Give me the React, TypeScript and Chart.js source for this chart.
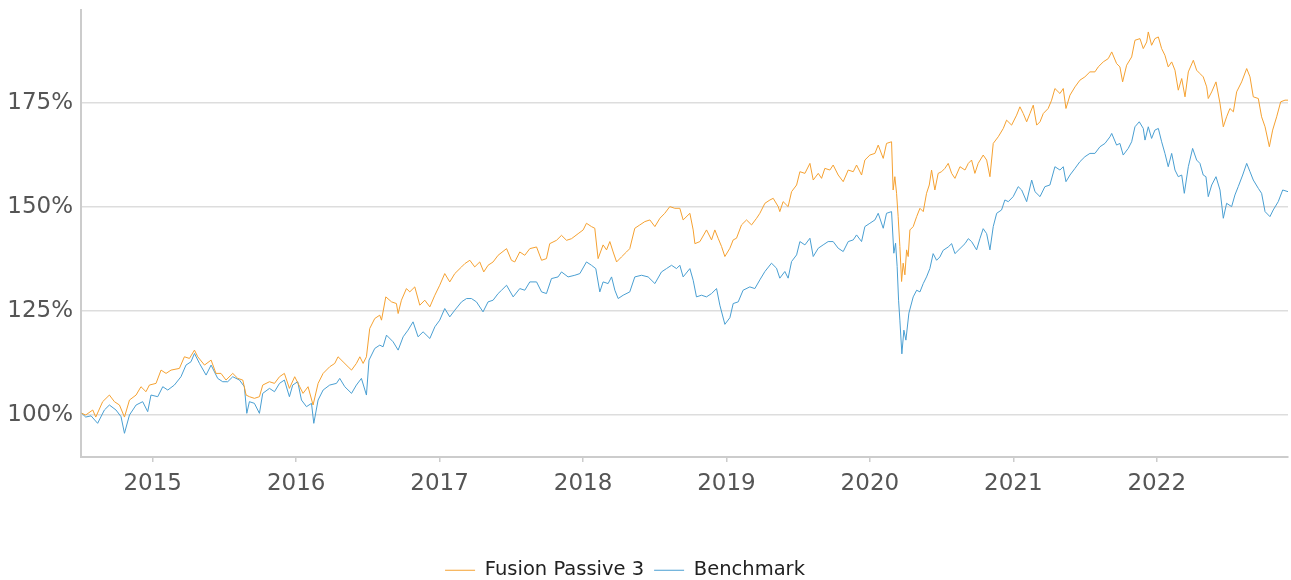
import { useEffect, useRef } from 'react';
import { Chart, registerables } from 'chart.js';

Chart.register(...registerables);

const seriesNames = ['Fusion Passive 3', 'Benchmark'];
const seriesColors = ['#f5a131', '#4a9fd2'];
const yearTicks = [2015, 2016, 2017, 2018, 2019, 2020, 2021, 2022];
const percentTicks = [100, 125, 150, 175];

const fusionDates = [
  2014.505, 2014.533, 2014.582, 2014.603, 2014.651, 2014.698, 2014.733, 2014.768, 2014.803, 2014.838,
  2014.884, 2014.918, 2014.953, 2014.977, 2015.023, 2015.058, 2015.093, 2015.128, 2015.186, 2015.221,
  2015.256, 2015.291, 2015.314, 2015.361, 2015.407, 2015.441, 2015.476, 2015.511, 2015.558, 2015.593,
  2015.628, 2015.651, 2015.674, 2015.709, 2015.744, 2015.767, 2015.814, 2015.849, 2015.884, 2015.918,
  2015.953, 2015.990, 2016.025, 2016.048, 2016.083, 2016.118, 2016.153, 2016.188, 2016.234, 2016.269,
  2016.292, 2016.327, 2016.362, 2016.386, 2016.420, 2016.444, 2016.467, 2016.490, 2016.513, 2016.548,
  2016.583, 2016.595, 2016.625, 2016.665, 2016.699, 2016.711, 2016.734, 2016.769, 2016.792, 2016.827,
  2016.862, 2016.897, 2016.932, 2016.967, 2017.001, 2017.036, 2017.071, 2017.106, 2017.153, 2017.176,
  2017.211, 2017.245, 2017.280, 2017.308, 2017.338, 2017.373, 2017.408, 2017.467, 2017.501, 2017.524,
  2017.559, 2017.594, 2017.629, 2017.676, 2017.711, 2017.745, 2017.768, 2017.815, 2017.850, 2017.885,
  2017.920, 2017.966, 2018.001, 2018.024, 2018.059, 2018.082, 2018.105, 2018.140, 2018.164, 2018.187,
  2018.210, 2018.234, 2018.268, 2018.303, 2018.326, 2018.361, 2018.396, 2018.431, 2018.466, 2018.501,
  2018.536, 2018.570, 2018.605, 2018.640, 2018.675, 2018.698, 2018.745, 2018.768, 2018.780, 2018.815,
  2018.861, 2018.896, 2018.919, 2018.942, 2018.966, 2018.989, 2019.024, 2019.047, 2019.070, 2019.105,
  2019.140, 2019.175, 2019.210, 2019.233, 2019.268, 2019.303, 2019.326, 2019.361, 2019.372, 2019.395,
  2019.430, 2019.454, 2019.489, 2019.512, 2019.547, 2019.582, 2019.605, 2019.640, 2019.663, 2019.686,
  2019.721, 2019.744, 2019.779, 2019.814, 2019.849, 2019.884, 2019.907, 2019.942, 2019.965, 2020.000,
  2020.035, 2020.058, 2020.093, 2020.116, 2020.151, 2020.162, 2020.174, 2020.186, 2020.197, 2020.209,
  2020.221, 2020.232, 2020.244, 2020.256, 2020.267, 2020.279, 2020.302, 2020.326, 2020.349, 2020.372,
  2020.395, 2020.414, 2020.430, 2020.453, 2020.476, 2020.500, 2020.523, 2020.546, 2020.570, 2020.593,
  2020.628, 2020.663, 2020.686, 2020.709, 2020.732, 2020.755, 2020.790, 2020.814, 2020.837, 2020.860,
  2020.895, 2020.930, 2020.953, 2020.988, 2021.023, 2021.046, 2021.069, 2021.093, 2021.116, 2021.139,
  2021.163, 2021.186, 2021.209, 2021.243, 2021.267, 2021.290, 2021.325, 2021.348, 2021.367, 2021.395,
  2021.430, 2021.464, 2021.499, 2021.534, 2021.569, 2021.592, 2021.627, 2021.662, 2021.686, 2021.720,
  2021.743, 2021.762, 2021.790, 2021.825, 2021.848, 2021.883, 2021.906, 2021.930, 2021.941, 2021.964,
  2021.987, 2022.011, 2022.034, 2022.057, 2022.080, 2022.104, 2022.127, 2022.150, 2022.174, 2022.197,
  2022.220, 2022.255, 2022.278, 2022.301, 2022.324, 2022.348, 2022.359, 2022.383, 2022.413, 2022.441,
  2022.464, 2022.487, 2022.510, 2022.534, 2022.557, 2022.592, 2022.627, 2022.650, 2022.673, 2022.708,
  2022.731, 2022.755, 2022.785, 2022.808, 2022.836, 2022.864, 2022.894, 2022.915,
];

const fusionValues = [
  100.4, 100.0, 101.2, 99.5, 103.2, 104.8, 103.2, 102.4, 99.5, 103.6,
  104.8, 106.8, 105.6, 107.2, 107.6, 110.8, 110.0, 110.8, 111.2, 114.0,
  113.6, 115.6, 114.0, 112.0, 113.2, 110.0, 110.0, 108.4, 110.0, 108.8,
  108.4, 104.8, 104.4, 104.0, 104.4, 107.2, 108.0, 107.6, 109.2, 110.0,
  106.4, 109.2, 106.8, 105.2, 106.8, 102.4, 107.6, 110.0, 111.6, 112.4,
  114.0, 112.8, 111.6, 110.8, 112.4, 114.0, 112.4, 114.0, 120.8, 123.2,
  124.0, 122.8, 128.4, 127.2, 126.8, 124.4, 127.6, 130.4, 129.6, 130.8,
  126.4, 127.6, 126.0, 128.8, 131.2, 134.0, 132.0, 134.0, 135.6, 136.4,
  137.2, 135.6, 136.8, 134.4, 136.0, 136.8, 138.4, 140.0, 137.2, 136.8,
  139.2, 138.4, 140.0, 140.4, 137.2, 137.6, 141.2, 142.0, 143.2, 142.0,
  142.4, 143.6, 144.5, 146.1, 145.3, 144.9, 137.6, 140.9, 139.7, 141.7,
  139.2, 136.8, 138.0, 139.2, 140.0, 144.9, 145.7, 146.5, 146.9, 145.3,
  147.3, 148.5, 150.1, 149.7, 149.7, 146.9, 148.5, 144.5, 141.2, 141.7,
  144.5, 142.1, 144.5, 142.5, 140.5, 138.1, 140.1, 142.1, 142.5, 145.7,
  146.9, 145.7, 147.3, 148.5, 150.9, 151.7, 152.1, 150.1, 148.9, 151.3,
  150.1, 153.7, 155.3, 158.5, 158.1, 160.5, 156.5, 158.1, 156.9, 159.3,
  158.9, 160.1, 157.7, 156.1, 158.9, 158.5, 160.1, 157.7, 161.3, 162.5,
  162.9, 164.9, 161.7, 165.3, 165.7, 154.1, 157.3, 153.3, 147.7, 140.5,
  132.1, 136.5, 133.7, 139.7, 138.1, 144.5, 145.3, 147.7, 149.7, 148.9,
  153.3, 155.3, 158.9, 154.1, 158.1, 158.5, 159.3, 160.5, 158.1, 156.9,
  159.7, 158.9, 160.5, 161.3, 158.1, 160.5, 162.5, 161.3, 157.3, 165.3,
  166.9, 168.9, 170.9, 169.7, 172.1, 174.1, 172.5, 170.5, 172.5, 174.5,
  169.7, 170.5, 172.5, 173.7, 175.7, 178.5, 177.3, 178.5, 173.7, 176.9,
  178.9, 180.5, 181.3, 182.5, 182.5, 183.7, 184.9, 185.7, 187.3, 184.5,
  183.7, 180.1, 184.1, 186.1, 190.1, 190.5, 188.1, 189.7, 192.1, 188.9,
  190.5, 190.9, 188.1, 186.5, 183.7, 184.9, 182.9, 178.1, 180.9, 176.5,
  182.5, 185.3, 182.9, 182.1, 181.3, 178.9, 176.1, 177.7, 180.1, 174.9,
  169.3, 171.7, 173.7, 172.9, 177.7, 180.1, 183.3, 181.3, 176.5, 176.1,
  171.7, 169.3, 164.5, 168.5, 171.7, 175.3, 175.7, 175.7,
];

const benchmarkDates = [
  2014.505, 2014.533, 2014.570, 2014.616, 2014.663, 2014.698, 2014.744, 2014.779, 2014.803, 2014.838,
  2014.884, 2014.930, 2014.965, 2014.988, 2015.035, 2015.070, 2015.105, 2015.151, 2015.197, 2015.232,
  2015.267, 2015.291, 2015.326, 2015.372, 2015.407, 2015.453, 2015.488, 2015.523, 2015.558, 2015.605,
  2015.639, 2015.656, 2015.674, 2015.709, 2015.744, 2015.767, 2015.814, 2015.849, 2015.884, 2015.918,
  2015.953, 2015.976, 2016.011, 2016.037, 2016.072, 2016.107, 2016.123, 2016.153, 2016.188, 2016.234,
  2016.281, 2016.304, 2016.339, 2016.386, 2016.420, 2016.455, 2016.490, 2016.508, 2016.548, 2016.583,
  2016.606, 2016.630, 2016.676, 2016.711, 2016.746, 2016.780, 2016.815, 2016.850, 2016.885, 2016.932,
  2016.967, 2017.001, 2017.036, 2017.071, 2017.106, 2017.153, 2017.188, 2017.222, 2017.257, 2017.303,
  2017.338, 2017.373, 2017.408, 2017.432, 2017.467, 2017.513, 2017.559, 2017.594, 2017.629, 2017.676,
  2017.711, 2017.745, 2017.780, 2017.826, 2017.850, 2017.896, 2017.943, 2017.978, 2018.024, 2018.059,
  2018.089, 2018.117, 2018.140, 2018.175, 2018.199, 2018.222, 2018.245, 2018.280, 2018.326, 2018.361,
  2018.408, 2018.454, 2018.501, 2018.547, 2018.582, 2018.617, 2018.652, 2018.675, 2018.698, 2018.745,
  2018.768, 2018.791, 2018.826, 2018.861, 2018.896, 2018.931, 2018.954, 2018.989, 2019.024, 2019.047,
  2019.082, 2019.116, 2019.163, 2019.198, 2019.233, 2019.268, 2019.314, 2019.349, 2019.372, 2019.407,
  2019.430, 2019.454, 2019.489, 2019.512, 2019.547, 2019.582, 2019.605, 2019.640, 2019.674, 2019.709,
  2019.744, 2019.779, 2019.814, 2019.849, 2019.884, 2019.907, 2019.942, 2019.965, 2020.000, 2020.035,
  2020.058, 2020.093, 2020.116, 2020.151, 2020.167, 2020.179, 2020.190, 2020.200, 2020.209, 2020.223,
  2020.237, 2020.251, 2020.272, 2020.302, 2020.326, 2020.349, 2020.372, 2020.395, 2020.418, 2020.441,
  2020.465, 2020.488, 2020.511, 2020.546, 2020.570, 2020.593, 2020.628, 2020.663, 2020.686, 2020.709,
  2020.744, 2020.767, 2020.790, 2020.814, 2020.837, 2020.860, 2020.884, 2020.918, 2020.941, 2020.965,
  2020.999, 2021.034, 2021.058, 2021.093, 2021.128, 2021.151, 2021.186, 2021.220, 2021.255, 2021.290,
  2021.325, 2021.348, 2021.367, 2021.395, 2021.430, 2021.464, 2021.499, 2021.534, 2021.569, 2021.604,
  2021.639, 2021.674, 2021.686, 2021.720, 2021.743, 2021.766, 2021.801, 2021.825, 2021.848, 2021.878,
  2021.906, 2021.918, 2021.941, 2021.964, 2021.987, 2022.011, 2022.034, 2022.057, 2022.080, 2022.104,
  2022.127, 2022.150, 2022.174, 2022.192, 2022.220, 2022.250, 2022.278, 2022.301, 2022.324, 2022.343,
  2022.359, 2022.383, 2022.413, 2022.441, 2022.464, 2022.487, 2022.522, 2022.545, 2022.568, 2022.599,
  2022.627, 2022.650, 2022.673, 2022.708, 2022.731, 2022.755, 2022.789, 2022.812, 2022.847, 2022.878,
  2022.915,
];

const benchmarkValues = [
  100.4, 99.5, 99.8, 98.0, 101.2, 102.4, 101.2, 99.6, 95.6, 100.0,
  102.4, 103.2, 100.8, 104.8, 104.4, 106.8, 106.0, 107.2, 109.2, 112.0,
  112.8, 114.8, 112.4, 109.6, 112.0, 108.8, 108.0, 108.0, 109.2, 108.4,
  106.8, 100.4, 103.2, 102.8, 100.4, 105.2, 106.4, 105.6, 107.6, 108.4,
  104.4, 107.2, 108.0, 103.6, 102.0, 102.8, 98.0, 103.6, 106.0, 107.2,
  107.6, 108.8, 106.8, 105.2, 107.2, 108.8, 104.8, 113.2, 116.0, 116.8,
  116.4, 119.2, 117.6, 115.6, 118.8, 120.4, 122.4, 118.8, 120.0, 118.4,
  121.2, 122.8, 125.6, 123.6, 125.2, 127.2, 128.0, 128.0, 127.2, 124.8,
  127.2, 127.6, 129.2, 130.0, 131.2, 128.4, 130.4, 130.0, 132.0, 132.0,
  129.6, 129.2, 132.8, 133.2, 134.4, 133.2, 133.6, 134.0, 136.8, 136.0,
  135.2, 129.6, 132.0, 131.6, 133.2, 130.0, 128.0, 128.8, 129.6, 133.2,
  133.6, 133.2, 131.6, 134.4, 135.2, 136.0, 135.2, 136.0, 133.2, 135.2,
  132.4, 128.4, 128.8, 128.4, 129.2, 130.4, 126.4, 121.8, 123.4, 126.8,
  127.2, 130.0, 130.8, 130.4, 132.5, 134.5, 136.5, 135.3, 132.9, 134.5,
  132.9, 136.9, 138.5, 141.7, 140.9, 142.5, 138.1, 140.1, 140.9, 141.7,
  141.7, 140.1, 139.3, 141.7, 142.1, 143.3, 141.7, 145.3, 146.1, 146.9,
  148.5, 144.9, 148.5, 148.9, 138.9, 141.3, 135.7, 127.6, 122.8, 114.7,
  120.4, 118.0, 124.5, 128.4, 130.0, 129.6, 131.6, 133.2, 135.2, 138.8,
  137.2, 138.0, 139.6, 140.4, 141.2, 138.8, 140.0, 141.2, 142.4, 141.7,
  139.7, 142.4, 144.8, 143.6, 139.7, 145.3, 148.5, 149.3, 151.7, 151.3,
  152.5, 154.9, 154.1, 151.3, 156.5, 153.7, 152.5, 154.9, 155.3, 159.7,
  158.9, 159.7, 156.1, 157.7, 159.3, 160.9, 162.1, 162.9, 162.9, 164.5,
  165.3, 166.9, 167.7, 164.9, 165.3, 162.5, 164.1, 165.7, 169.3, 170.5,
  168.9, 166.1, 169.3, 166.5, 168.5, 168.9, 165.7, 162.9, 159.7, 162.9,
  158.9, 157.3, 157.7, 153.3, 159.7, 164.1, 161.3, 160.5, 157.7, 157.3,
  152.5, 155.3, 157.3, 154.1, 147.3, 150.9, 150.1, 152.9, 154.9, 157.7,
  160.5, 158.5, 156.5, 154.5, 153.3, 148.9, 147.7, 149.3, 151.3, 154.1,
  153.7,
];

const toPoints = (dates: number[], values: number[]) =>
  dates.map((d, i) => ({ x: d, y: values[i] }));

export default function App() {
  const canvasRef = useRef<HTMLCanvasElement | null>(null);

  useEffect(() => {
    if (!canvasRef.current) return;
    const chart = new Chart(canvasRef.current, {
      type: 'line',
      data: {
        datasets: [
          {
            label: seriesNames[0],
            data: toPoints(fusionDates, fusionValues),
            borderColor: seriesColors[0],
            backgroundColor: seriesColors[0],
            borderWidth: 1,
            pointRadius: 0,
            tension: 0,
          },
          {
            label: seriesNames[1],
            data: toPoints(benchmarkDates, benchmarkValues),
            borderColor: seriesColors[1],
            backgroundColor: seriesColors[1],
            borderWidth: 1,
            pointRadius: 0,
            tension: 0,
          },
        ],
      },
      options: {
        responsive: false,
        animation: false,
        events: [],
        font: { family: '"DejaVu Sans", sans-serif' },
        layout: { padding: { left: -38, right: 3, top: 9.5, bottom: -10 } },
        scales: {
          x: {
            type: 'linear',
            min: 2014.5,
            max: 2022.915,
            afterBuildTicks: (scale: any) => {
              scale.ticks = yearTicks.map((v) => ({ value: v }));
            },
            afterFit: (scale: any) => {
              scale.height = 93.5;
              scale.paddingLeft = 0;
              scale.paddingRight = 0;
            },
            ticks: {
              callback: (v: any) => String(v),
              color: '#555',
              font: { family: '"DejaVu Sans", sans-serif', size: 23 },
              padding: 8,
              maxRotation: 0,
            },
            grid: {
              drawOnChartArea: false,
              drawTicks: true,
              tickLength: 5,
              color: '#cccccc',
              lineWidth: 1.5,
            },
            border: { display: true, color: '#cccccc', width: 2 },
          },
          y: {
            type: 'linear',
            min: 89.9,
            max: 197.5,
            afterBuildTicks: (scale: any) => {
              scale.ticks = percentTicks.map((v) => ({ value: v }));
            },
            afterFit: (scale: any) => {
              scale.width = 119;
              scale.paddingTop = 0;
              scale.paddingBottom = 0;
            },
            ticks: {
              callback: (v: any) => v + '%',
              color: '#555',
              font: { family: '"DejaVu Sans", sans-serif', size: 23 },
              padding: 8,
            },
            grid: {
              drawTicks: false,
              color: '#dddddd',
              lineWidth: 1.5,
            },
            border: { display: true, color: '#cccccc', width: 2 },
          },
        },
        plugins: {
          tooltip: { enabled: false },
          legend: {
            position: 'bottom',
            labels: {
              usePointStyle: true,
              pointStyle: 'line',
              pointStyleWidth: 30,
              color: '#222',
              padding: 10,
              font: { family: '"DejaVu Sans", sans-serif', size: 19.5 },
            },
          },
        },
      },
    } as any);
    return () => chart.destroy();
  }, []);

  return (
    <div style={{ position: 'fixed', left: 0, top: 0, width: 1291, height: 580, background: '#fff' }}>
      <canvas ref={canvasRef} width={1291} height={580} style={{ display: 'block' }} />
    </div>
  );
}
